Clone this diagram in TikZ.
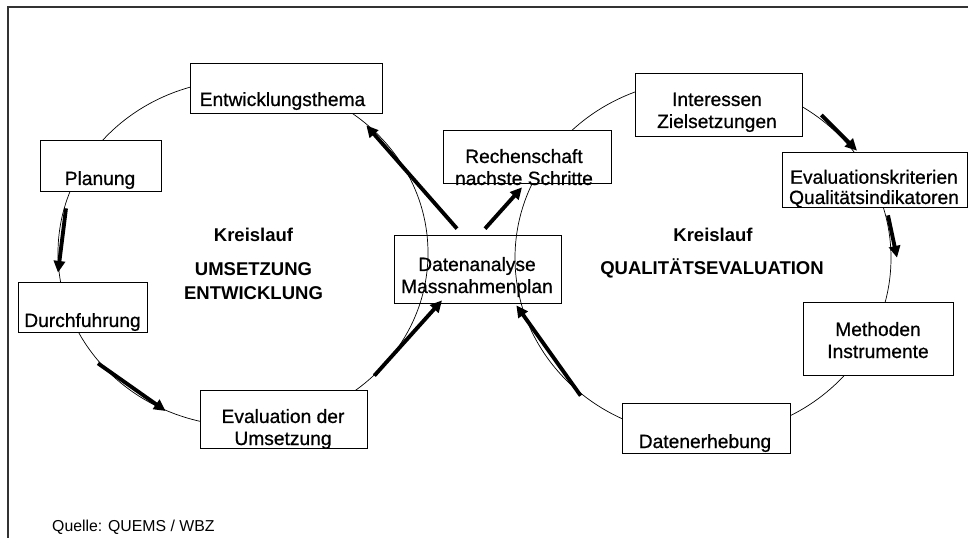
\documentclass[tikz,border=0pt]{standalone}
\usepackage{fontspec}
\setmainfont{Liberation Sans}
\newfontfamily\kastenfont[FakeBold=0.7]{Liberation Sans}
\usetikzlibrary{arrows.meta}

\begin{document}
\begin{tikzpicture}[
        x=0.03cm, y=-0.03cm,
        font=\fontsize{16.4}{18.8}\selectfont,
        box/.style={
            rectangle, draw=black, line width=0.6pt, fill=white,
            inner sep=0pt
        },
        txt/.style={anchor=base, inner sep=0pt, align=center,
            font=\kastenfont\fontsize{16.4}{18.8}\selectfont},
        titel/.style={txt, font=\fontsize{15.8}{20.5}\selectfont\bfseries},
        kreis/.style={line width=0.6pt},
        pfeil/.style={-{Triangle[length=10pt, width=9.5pt]}, line width=3.3pt}
    ]
        \useasboundingbox (0,0) rectangle (968,538);

        % Rahmen
        \draw[line width=0.9pt, black!80] (968,7) -- (8,7) -- (8,538);

        % Kreise
        \draw[kreis] (243,253) ellipse [x radius=5.55cm, y radius=5.19cm];
        \draw[kreis] (703,258) ellipse [x radius=5.64cm, y radius=5.34cm];

        % Kreislauf Umsetzung / Entwicklung
        \node[box, minimum width=5.76cm, minimum height=1.5cm] (ent) at (286,88) {};
        \node[box, minimum width=3.63cm, minimum height=1.53cm] (plan) at (100.5,165.5) {};
        \node[box, minimum width=3.87cm, minimum height=1.5cm] (durch) at (82.5,307) {};
        \node[box, minimum width=5.01cm, minimum height=1.74cm] (evalu) at (283.5,419) {};
        \node[box, fill=none, minimum width=5.01cm, minimum height=2.04cm] (daten) at (477.5,269) {};

        % Kreislauf Qualitaetsevaluation
        \node[box, minimum width=5.04cm, minimum height=1.59cm] (rechen) at (527,156.5) {};
        \node[box, minimum width=5.01cm, minimum height=1.89cm] (inter) at (718.5,104.5) {};
        \node[box, minimum width=5.55cm, minimum height=1.65cm] (krit) at (874.5,179.5) {};
        \node[box, minimum width=4.5cm, minimum height=2.19cm] (meth) at (878,338.5) {};
        \node[box, minimum width=5.04cm, minimum height=1.5cm] (erheb) at (706,428) {};

        % Texte (base = letzte Zeile)
        \node[txt] (entT) at (282.5,106) {Entwicklungsthema};
        \node[txt] (planT) at (100,185) {Planung};
        \node[txt] (durchT) at (82.5,327) {Durchfuhrung};
        \node[txt] (evaluT) at (283,445) {Evaluation der\\Umsetzung};
        \node[txt] (datenT) at (477,293) {Datenanalyse\\Massnahmenplan};
        \node[txt] (rechenT) at (524,185) {Rechenschaft\\nachste Schritte};
        \node[txt] (interT) at (717,128) {Interessen\\Zielsetzungen};
        \node[txt] (kritT) at (874,204) {Evaluationskriterien\\[-1.5pt]Qualitätsindikatoren};
        \node[txt] (methT) at (878,358) {Methoden\\Instrumente};
        \node[txt] (erhebT) at (705,448) {Datenerhebung};

        \node[titel] (kreisL) at (253.5,242) {Kreislauf};
        \node[titel] (umsetzT) at (253.5,300) {UMSETZUNG\\ENTWICKLUNG};
        \node[titel] (kreisR) at (713,242) {Kreislauf};
        \node[titel] (qualT) at (712,275) {QUALITÄTSEVALUATION};

        \node[anchor=base west, inner sep=0pt, font=\fontsize{13.5}{16}\selectfont]
            (quelle) at (52,531) {Quelle: QUEMS / WBZ};

        % Pfeile
        \draw[pfeil] ([shift={(-34.5,17)}]plan.south) -- ([shift={(-24.5,-9)}]durch.north);
        \draw[pfeil] ([shift={(15.5,31)}]durch.south) -- ([shift={(-34,-8)}]evalu.west);
        \draw[pfeil] ([shift={(7,-14)}]evalu.north east) -- ([shift={(-35.5,-3)}]daten.south);
        \draw[pfeil] ([shift={(-20.5,-6)}]daten.north) -- ([shift={(-16,12)}]ent.south east);
        \draw[pfeil] ([shift={(7.5,-6)}]daten.north) -- ([shift={(-5,4)}]rechen.south);
        \draw[pfeil] ([shift={(19,10.5)}]inter.east) -- ([shift={(-17.5,-1)}]krit.north);
        \draw[pfeil] ([shift={(13.5,8)}]krit.south) -- ([shift={(19,-44)}]meth.north);
        \draw[pfeil] ([shift={(-41,-7)}]erheb.north west) -- ([shift={(-45,2)}]daten.south east);

    \end{tikzpicture}
\end{document}
